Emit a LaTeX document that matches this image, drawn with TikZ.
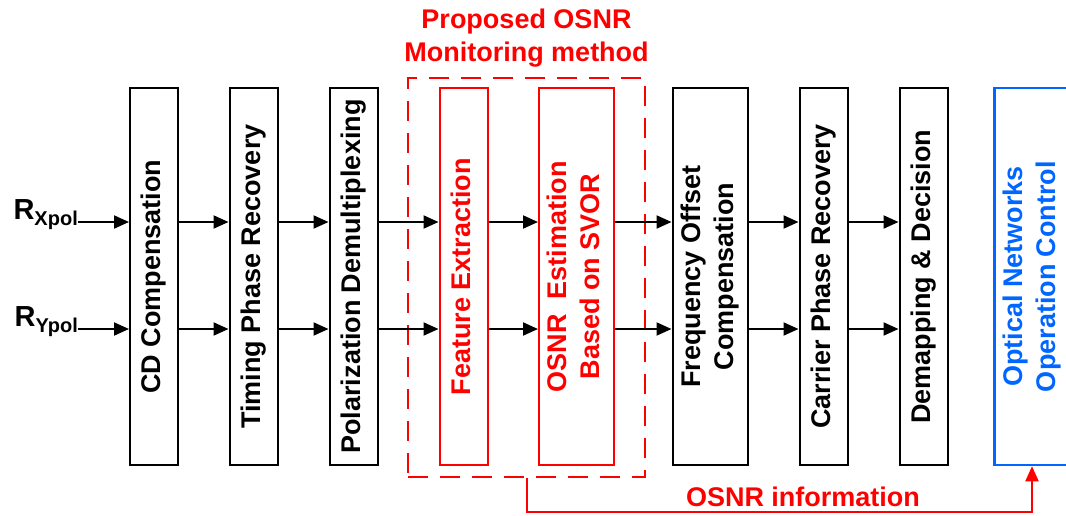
\documentclass[tikz,border=0pt]{standalone}
\usepackage{fontspec}
\setmainfont{Liberation Sans}
\usepackage{graphicx}
\usetikzlibrary{arrows.meta,positioning}
\definecolor{onblue}{RGB}{0,102,255}
\newcommand{\vlabel}[1]{\rotatebox{90}{\begin{tabular}{@{}c@{}}#1\end{tabular}}}

\begin{document}
\begin{tikzpicture}[x=1pt,y=-1pt,
  blk/.style={draw,line width=2pt,minimum width=48pt,minimum height=377pt,inner sep=0pt,
    font=\fontsize{27}{33}\selectfont\bfseries},
  wide/.style={minimum width=75pt},
  prop/.style={red},
  ctrl/.style={draw=onblue,text=onblue,line width=2.5pt},
  arr/.style={line width=2pt,-{Triangle[length=15pt,width=13pt]}},
  lbl/.style={font=\fontsize{27}{33}\selectfont\bfseries,inner sep=0pt}]
\useasboundingbox (0,0) rectangle (1066,515);
\clip (0,0) rectangle (1066,515);

\coordinate (xlane) at (0,222);
\coordinate (ylane) at (0,329);
\coordinate (fbk) at (0,512);

% receiver chain
\node[blk] (cd) at (154,276.5) {\vlabel{CD Compensation}};
\node[blk] (tpr) at (253.5,276.5) {\vlabel{Timing Phase Recovery}};
\node[blk] (pdm) at (353.5,276.5) {\vlabel{Polarization Demultiplexing}};
\node[blk,prop] (fe) at (463.5,276.5) {\vlabel{Feature Extraction}};
\node[blk,prop,wide] (est) at (576.5,276.5) {\vlabel{OSNR\ \ Estimation\\Based on SVOR}};
\node[blk,wide] (foc) at (710,276.5) {\vlabel{Frequency Offset\\Compensation}};
\node[blk] (cpr) at (823.5,276.5) {\vlabel{Carrier Phase Recovery}};
\node[blk] (dd) at (923.5,276.5) {\vlabel{Demapping \& Decision}};
\node[blk,ctrl,wide] (onc) at (1032,276.5) {\vlabel{Optical Networks\\Operation Control}};

% proposed method
\node[draw=red,line width=2.5pt,dash pattern=on 20pt off 12pt,minimum width=237pt,minimum height=399pt] (mon) at (526.5,277.5) {};
\node[lbl,red,align=center] (ttl) at (526.5,38) {Proposed OSNR\\Monitoring method};

% inputs
\node[lbl,anchor=base east] (rx) at (78,219) {\fontsize{29}{30}\selectfont R\raisebox{-6pt}{\fontsize{20}{20}\selectfont Xpol}};
\node[lbl,anchor=base east] (ry) at (78,326) {\fontsize{29}{30}\selectfont R\raisebox{-6pt}{\fontsize{20}{20}\selectfont Ypol}};
\draw[arr] (rx.east |- xlane) -- (cd.west |- xlane);
\draw[arr] (ry.east |- ylane) -- (cd.west |- ylane);

\foreach \a/\b in {cd/tpr,tpr/pdm,pdm/fe,fe/est,est/foc,foc/cpr,cpr/dd}{
  \draw[arr] (\a.east |- xlane) -- (\b.west |- xlane);
  \draw[arr] (\a.east |- ylane) -- (\b.west |- ylane);
}

% feedback
\draw[arr,red] (mon.south) -- (mon.south |- fbk) -| (onc.south);
\node[lbl,red] (info) at (803,497) {OSNR information};
\end{tikzpicture}
\end{document}
